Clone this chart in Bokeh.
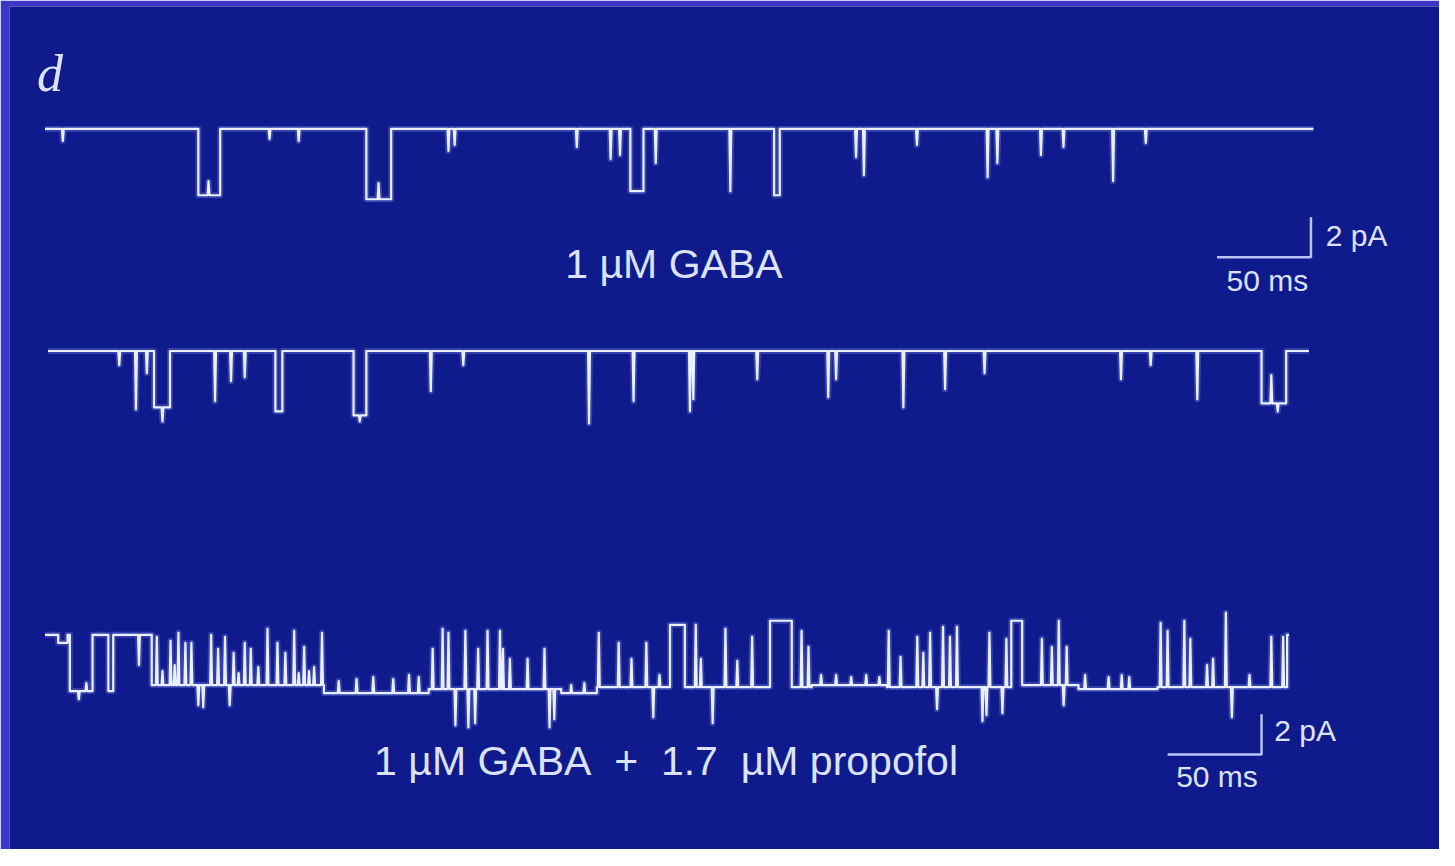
from bokeh.plotting import figure
from bokeh.models import Range1d
from bokeh.core.properties import value
from bokeh.embed import file_html
from bokeh.resources import INLINE

# ---------------- DATA (time in ms, current in pA; openings are downward) ----------------
# Trace 1: 1 uM GABA (first sweep)
t1_span = [0.0, 675.0]
t1_open_start = [81.6, 171.0, 311.5, 388.0]
t1_open_end = [93.2, 184.2, 318.5, 391.0]
t1_open_level = [-3.3, -3.5, -3.1, -3.3]
t1_spike_t = [9.5, 87.0, 119.5, 135.0, 177.5, 214.7, 218.0, 283.0, 301.0, 306.0, 325.0,
              364.7, 431.6, 435.8, 464.0, 501.6, 506.8, 530.0, 542.0, 568.4, 585.8]
t1_spike_peak = [-0.6, -2.6, -0.5, -0.6, -2.7, -1.1, -0.8, -0.9, -1.5, -1.3, -1.7,
                 -3.1, -1.4, -2.3, -0.8, -2.4, -1.7, -1.3, -0.9, -2.6, -0.7]

# Trace 2: 1 uM GABA (second sweep)
t2_span = [1.6, 672.6]
t2_open_start = [58.0, 122.6, 164.2, 647.4]
t2_open_end = [66.5, 126.3, 171.0, 660.5]
t2_open_level = [-2.8, -3.0, -3.2, -2.6]
t2_spike_t = [39.5, 48.4, 54.2, 62.5, 90.5, 99.0, 106.3, 167.5, 205.3, 222.6, 289.5, 313.2,
              343.2, 345.0, 379.0, 416.8, 421.0, 456.8, 479.0, 500.0, 572.6, 588.4, 613.2,
              652.6, 656.0]
t2_spike_peak = [-0.7, -2.9, -1.1, -3.5, -2.5, -1.5, -1.3, -3.5, -2.0, -0.7, -3.6, -2.5,
                 -3.0, -2.4, -1.4, -2.3, -1.4, -2.8, -1.9, -1.1, -1.4, -0.7, -2.4,
                 -1.2, -3.0]

# Trace 3: 1 uM GABA + 1.7 uM propofol
t3_span = [0.0, 662.0]
t3_seg_start = [7.0, 13.2, 33.7, 56.8, 148.4, 204.2, 274.7, 293.7, 332.6, 340.5, 385.8,
                397.4, 408.0, 448.0, 514.2, 520.0, 550.0, 592.0, 634.0]
t3_seg_end = [12.0, 25.3, 36.3, 148.4, 204.2, 274.7, 293.7, 332.6, 340.5, 385.8, 397.4,
              408.0, 448.0, 514.2, 520.0, 550.0, 592.0, 634.0, 661.0]
t3_seg_level = [-0.4, -2.8, -2.8, -2.5, -2.9, -2.7, -2.9, -2.6, 0.5, -2.6, 0.7,
                -2.6, -2.5, -2.6, 0.7, -2.5, -2.7, -2.6, -2.6]
t3_spike_t = [18.0, 22.0, 50.0,
              59.5, 62.5, 66.8, 69.0, 71.0, 74.7, 77.9, 81.6, 84.2, 88.4, 92.1, 95.8, 98.3,
              100.4, 103.0, 106.3, 109.5, 113.5, 118.4, 123.7, 127.9, 132.6, 135.0, 137.9,
              140.5, 143.2, 147.4,
              156.3, 165.8, 174.7, 185.3, 193.7, 198.9,
              206.3, 211.6, 214.7, 218.4, 223.7, 225.3, 228.9, 230.5, 235.5, 242.1, 243.7,
              247.4, 256.8, 265.8, 268.5, 271.0,
              280.0, 287.0,
              294.7, 305.3, 312.1, 320.0, 323.7, 327.0,
              346.3, 349.0, 355.3, 362.1, 368.4, 376.3,
              402.6, 406.3,
              413.0, 421.0, 429.0, 437.0, 444.0,
              449.0, 455.3, 464.2, 467.4, 471.0, 474.7, 477.9, 481.6, 485.3, 498.9, 501.0,
              502.6, 509.5, 511.6,
              530.5, 535.8, 539.5, 542.1, 543.7,
              553.5, 566.0, 573.0, 577.0,
              593.7, 597.4, 606.3, 609.5, 618.4, 621.6, 628.4, 631.6,
              641.0, 652.6, 658.9]
t3_spike_peak = [-3.2, -2.4, -1.5,
                 -0.1, -1.8, -0.3, -1.5, 0.1, -0.4, -0.4, -3.5, -3.6, 0.0, -0.7, -0.1, -3.5,
                 -0.9, -1.9, -0.4, -0.7, -1.6, 0.3, -0.4, -0.9, 0.2, -1.9, -0.6,
                 -1.8, -1.6, 0.1,
                 -2.3, -2.2, -2.1, -2.2, -2.0, -2.1,
                 -0.7, 0.3, 0.1, -4.5, 0.2, -4.6, -4.4, -0.7, 0.2, 0.2, -0.7,
                 -1.2, -1.2, -0.7, -4.6, -4.2,
                 -2.5, -2.4,
                 0.1, -0.4, -1.2, -0.4, -4.1, -2.0,
                 0.5, -1.2, -4.4, 0.3, -1.3, -0.1,
                 0.2, -0.6,
                 -2.0, -2.0, -2.1, -2.0, -2.1,
                 0.2, -1.1, -0.1, -0.9, 0.1, -3.7, 0.4, -0.1, 0.4, -4.3, -4.0,
                 0.1, -3.9, -0.2,
                 -0.2, -0.6, 0.7, -3.5, -0.6,
                 -2.0, -2.1, -2.0, -2.1,
                 0.6, 0.2, 0.7, -0.2, -1.5, -1.2, 1.1, -4.1,
                 -2.0, -0.1, -0.1]

scale_ms = 50
scale_pA = 2
label_top = "1 µM GABA"
label_bottom = "1 µM GABA\u00a0 +\u00a0 1.7\u00a0 µM propofol"
panel_letter = "d"

# ---------------- LAYOUT / STYLE ----------------
BG = "#0f1b8d"
EDGE = "#3b36c6"
TRACE = "#eaf0ff"
GLOW = "#8c9af7"
TXT = "#dde2fb"
offsets = [-6.39, -17.44, -31.56]          # vertical placement of each sweep (pA)
SPIKE_W = 0.5


def build(span, seg_s, seg_e, seg_l, spk_t, spk_p, off):
    full = []
    cur = span[0]
    for a, b, lv in zip(seg_s, seg_e, seg_l):
        if a > cur:
            full.append((cur, a, 0.0))
        full.append((a, b, lv))
        cur = b
    if cur < span[1]:
        full.append((cur, span[1], 0.0))
    spikes = sorted(zip(spk_t, spk_p))
    xs, ys = [], []
    for a, b, lv in full:
        xs.append(a); ys.append(lv + off)
        for t, pk in spikes:
            if a <= t - SPIKE_W and t + SPIKE_W <= b:
                xs += [t - SPIKE_W, t, t + SPIKE_W]
                ys += [lv + off, pk + off, lv + off]
        xs.append(b); ys.append(lv + off)
    return xs, ys


p = figure(width=1439, height=849, x_range=Range1d(-18.9, 742.1),
           y_range=Range1d(-42.24, -0.30), output_backend="svg", toolbar_location=None,
           x_axis_type=None, y_axis_type=None,
           min_border_left=9, min_border_top=6, min_border_right=0, min_border_bottom=0)
p.background_fill_color = BG
p.border_fill_color = EDGE
p.outline_line_color = None
p.grid.visible = False

traces = [
    build(t1_span, t1_open_start, t1_open_end, t1_open_level, t1_spike_t, t1_spike_peak, offsets[0]),
    build(t2_span, t2_open_start, t2_open_end, t2_open_level, t2_spike_t, t2_spike_peak, offsets[1]),
    build(t3_span, t3_seg_start, t3_seg_end, t3_seg_level, t3_spike_t, t3_spike_peak, offsets[2]),
]
for xs, ys in traces:
    p.line(xs, ys, line_color=GLOW, line_width=6, line_alpha=0.3, line_join="round")
    p.line(xs, ys, line_color=TRACE, line_width=2.2, line_join="round")

# scale bars
bars = [(623.7, -12.78), (597.4, -37.51)]
for bx, by in bars:
    p.line([bx, bx + scale_ms, bx + scale_ms], [by, by, by + scale_pA],
           line_color="#b9c4f5", line_width=2.5)

font = value("Liberation Sans")
p.text(x=[-4.2], y=[-3.61], text=[panel_letter], text_font=value("Liberation Serif"),
       text_font_style="italic", text_font_size="52px", text_color=TXT,
       text_baseline="alphabetic", text_align="left")
p.text(x=[334.7, 330.5], y=[-13.12, -37.85], text=[label_top, label_bottom], text_font=font,
       text_font_size="41px", text_color=TXT, text_baseline="alphabetic", text_align="center")
p.text(x=[681.6, 654.2], y=[-11.71, -36.34], text=[f"{scale_pA} pA"] * 2, text_font=font,
       text_font_size="30px", text_color=TXT, text_baseline="alphabetic", text_align="left")
p.text(x=[650.5, 623.7], y=[-13.95, -38.59], text=[f"{scale_ms} ms"] * 2, text_font=font,
       text_font_size="30px", text_color=TXT, text_baseline="alphabetic", text_align="center")

open("out.html", "w").write(file_html(p, INLINE))
